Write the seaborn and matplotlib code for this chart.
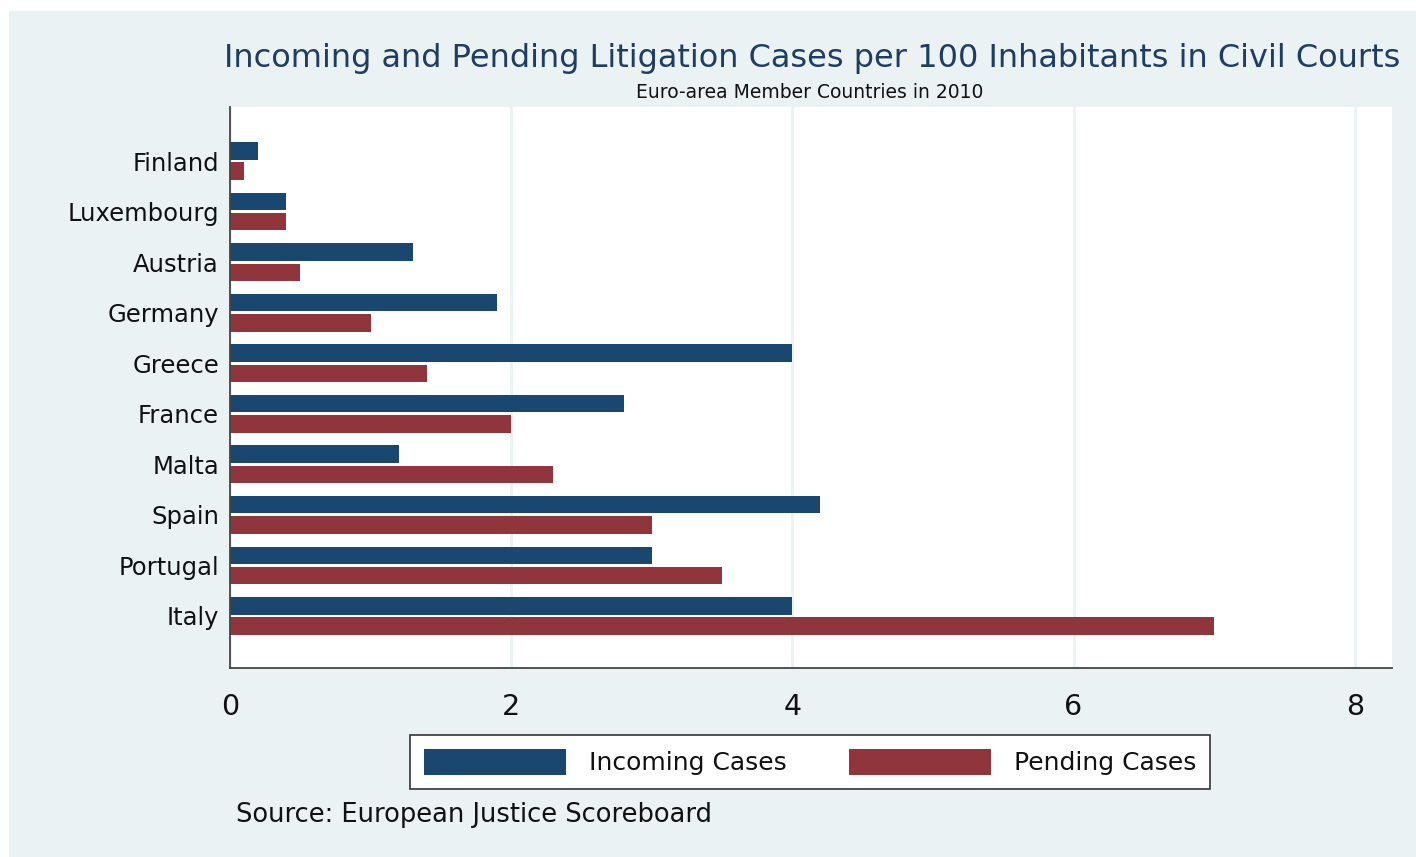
import matplotlib
matplotlib.use("Agg")
import matplotlib.pyplot as plt
import seaborn as sns
import pandas as pd
from matplotlib.patches import Rectangle

countries = ["Finland", "Luxembourg", "Austria", "Germany", "Greece",
             "France", "Malta", "Spain", "Portugal", "Italy"]
incoming = [0.2, 0.4, 1.3, 1.9, 4.0, 2.8, 1.2, 4.2, 3.0, 4.0]
pending = [0.1, 0.4, 0.5, 1.0, 1.4, 2.0, 2.3, 3.0, 3.5, 7.0]
series = ["Incoming Cases", "Pending Cases"]
colors = ["#1A476F", "#90353B"]
xticks = [0, 2, 4, 6, 8]

df = pd.DataFrame({
    "country": countries * 2,
    "value": incoming + pending,
    "series": [series[0]] * len(countries) + [series[1]] * len(countries),
})

sns.set_theme(style="white")
plt.rcParams["font.family"] = ["DejaVu Sans"]

W, H = 1416, 857
fig = plt.figure(figsize=(W / 100, H / 100), dpi=100)
fig.patch.set_facecolor("white")
bg = "#EAF2F3"
fig.patches.append(Rectangle((9 / W, 0), 1 - 9 / W, 1 - 11 / H, transform=fig.transFigure,
                             facecolor=bg, edgecolor="none", zorder=-10))

ax = fig.add_axes([230 / W, 1 - 668 / H, (1392 - 230) / W, (668 - 107) / H])
ax.set_facecolor("white")

sns.barplot(data=df, y="country", x="value", hue="series", orient="h",
            palette=colors, width=0.8, dodge=True, ax=ax, legend=True,
            saturation=1, errorbar=None, order=countries, hue_order=series,
            linewidth=0, edgecolor="none")

# small gap between the two bars of each group
for p in ax.patches:
    h = p.get_height()
    if h > 0:
        c = p.get_y() + h / 2
        nh = 0.345
        p.set_y(c - nh / 2)
        p.set_height(nh)

ax.set_xlim(0, 8.265)
ax.set_ylim(10.03, -1.07)
ax.set_xticks(xticks)
ax.set_xticklabels([str(t) for t in xticks], fontsize=20.5)
ax.tick_params(axis="x", direction="out", length=10, width=1.2, color="#333333", pad=8)
ax.tick_params(axis="y", length=0, pad=8, labelsize=17.5)
for lab in ax.get_yticklabels() + ax.get_xticklabels():
    lab.set_color("#111111")
ax.set_xlabel("")
ax.set_ylabel("")
ax.grid(axis="x", color=bg, linewidth=2)
ax.set_axisbelow(True)
for s in ["top", "right"]:
    ax.spines[s].set_visible(False)
for s in ["left", "bottom"]:
    ax.spines[s].set_visible(True)
    ax.spines[s].set_color("#444444")
    ax.spines[s].set_linewidth(1.3)

handles, labels = ax.get_legend_handles_labels()
ax.get_legend().remove()
leg = fig.legend(handles, labels, loc="center", bbox_to_anchor=(810 / W, 1 - 762 / H),
                 ncol=2, fontsize=18, frameon=True, fancybox=False, framealpha=1,
                 handlelength=5.7, handleheight=1.25, handletextpad=0.9,
                 columnspacing=2.5, borderpad=0.55)
leg.get_frame().set_edgecolor("#333333")
leg.get_frame().set_linewidth(1.2)
leg.get_frame().set_facecolor("white")
for t in leg.get_texts():
    t.set_color("#111111")

fig.text(812 / W, 1 - 58 / H,
         "Incoming and Pending Litigation Cases per 100 Inhabitants in Civil Courts",
         ha="center", va="center", fontsize=23, color="#1F3D63")
fig.text(810 / W, 1 - 93 / H, "Euro-area Member Countries in 2010",
         ha="center", va="center", fontsize=13.5, color="#111111")
fig.text(236 / W, 1 - 815 / H, "Source: European Justice Scoreboard",
         ha="left", va="center", fontsize=18.5, color="#111111")

fig.savefig("out.png", dpi=100, facecolor=fig.get_facecolor())
